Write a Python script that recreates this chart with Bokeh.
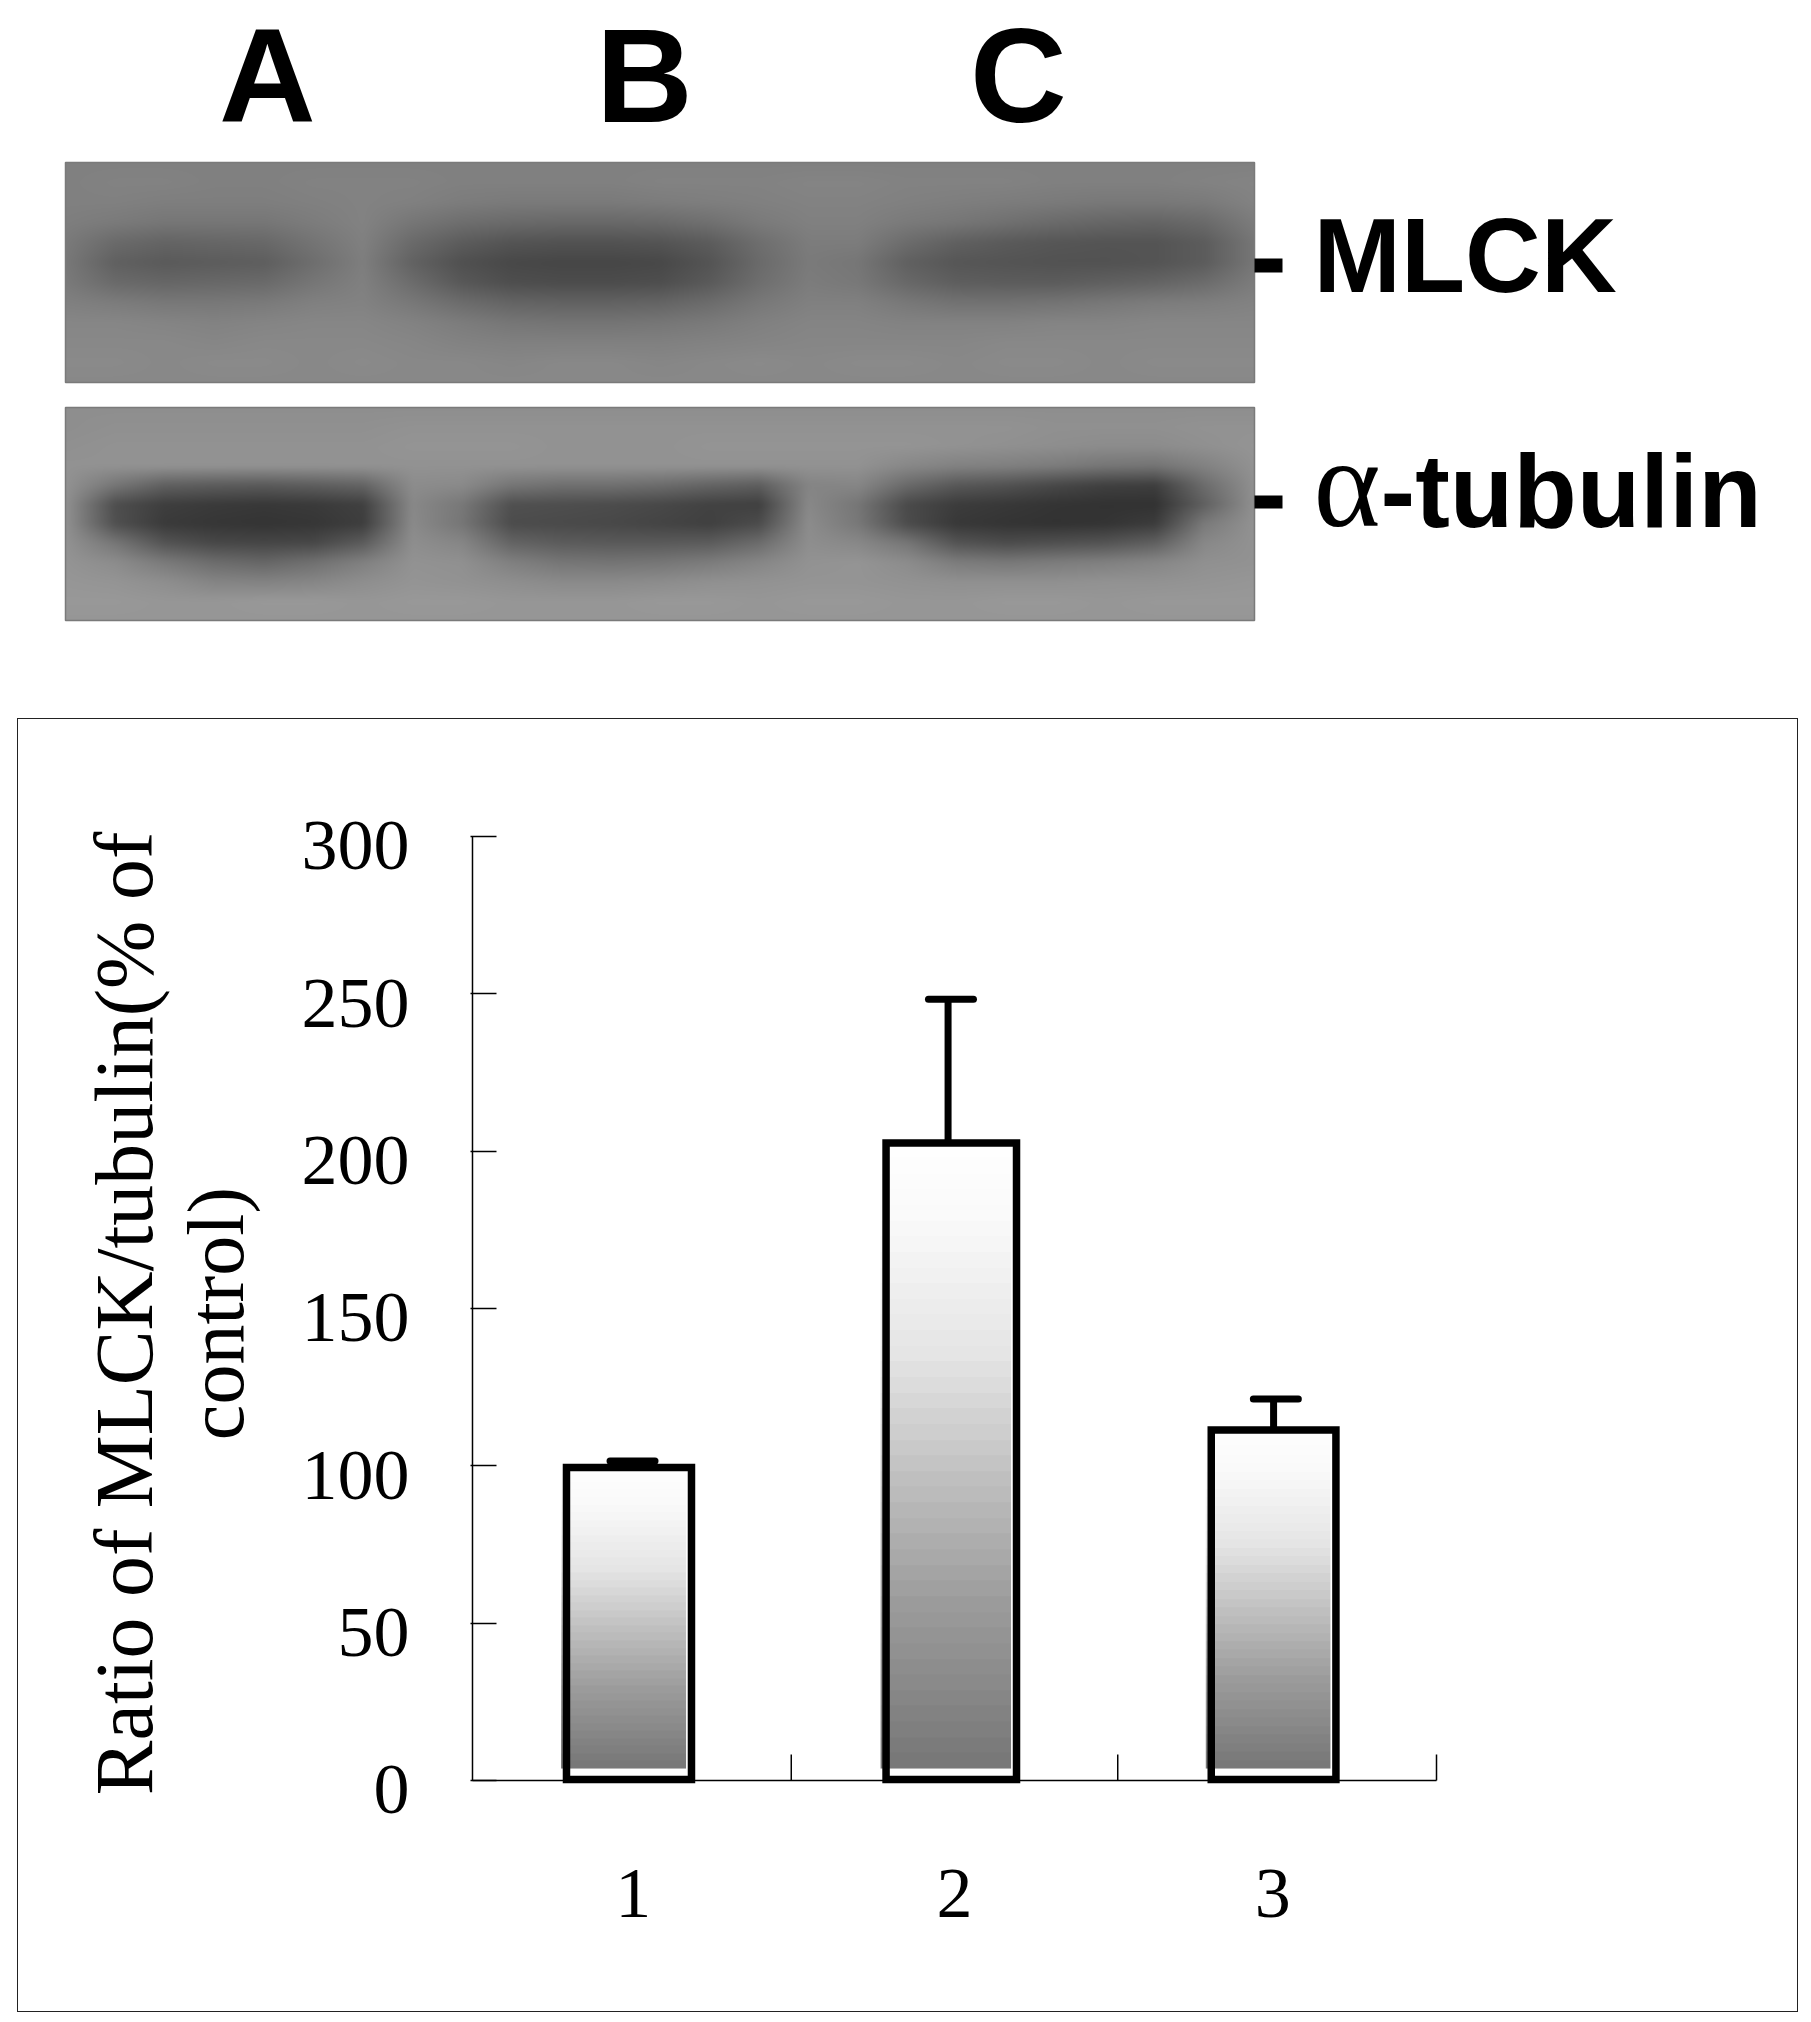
import numpy as np
from bokeh.embed import file_html
from bokeh.layouts import column
from bokeh.models import Div, FixedTicker, LinearAxis, Range1d
from bokeh.plotting import figure
from bokeh.resources import INLINE
from bokeh.core.properties import value

# ---- data ----
lanes = ["A", "B", "C"]
categories = ["1", "2", "3"]
ratio = [99.5, 202.6, 111.4]
ratio_upper = [101.5, 248.3, 121.2]
y_ticks = [0, 50, 100, 150, 200, 250, 300]
y_title_lines = ["Ratio of MLCK/tubulin(% of", "control)"]

# grey levels of the two blot photographs, estimated on a coarse grid
mlck_blot = [
    [128]*25,
    [128,130,130,128,128,130,130,130,128,128,128,128,130,130,130,132,132,130,130,130,128,128,128,130,132],
    [128,128,126,126,126,128,130,128,124,122,122,122,124,126,128,130,130,128,126,124,122,120,120,122,130],
    [126,122,118,118,118,124,130,118,110,106,104,104,106,112,122,128,128,122,118,112,106,102,100,106,124],
    [122,106,100,102,104,116,128,106,92,84,82,82,84,92,110,124,124,108,96,90,86,84,84,92,118],
    [120,96,90,92,94,110,126,98,80,72,70,70,72,84,106,122,118,96,86,84,82,82,84,92,118],
    [122,106,102,104,106,118,128,108,88,78,76,76,78,90,110,124,120,104,94,92,92,96,100,108,124],
    [128,124,120,120,122,128,130,120,108,100,98,98,100,108,120,128,128,120,114,114,116,120,124,126,130],
    [134,134,132,130,132,134,134,130,124,118,116,116,118,122,128,132,132,130,130,130,132,132,134,134,134],
    [136,136,136,134,136,136,136,134,130,128,128,128,128,130,132,134,134,134,134,136,136,136,136,136,136],
    [138,138,136,138,138,136,138,136,136,134,136,136,134,136,138,136,138,138,136,138,138,136,138,138,138],
    [136]*25,
]
tubulin_blot = [
    [142]*25,
    [142,144,144,144,144,144,144,146,146,146,146,146,146,146,146,146,146,146,146,146,144,144,144,146,146],
    [144,146,146,146,146,146,146,148,148,148,146,146,146,148,148,148,148,148,146,144,142,140,140,144,148],
    [146,146,146,146,146,146,146,146,146,146,146,146,146,146,146,146,146,136,130,128,124,118,116,130,146],
    [146,118,96,92,90,94,100,140,138,118,112,112,108,100,94,132,134,106,88,82,72,64,62,108,144],
    [144,78,62,58,56,58,64,136,120,80,78,76,72,66,64,136,118,74,60,56,52,50,50,96,144],
    [144,80,58,54,52,54,62,138,118,76,74,72,68,64,76,140,120,76,56,52,50,52,60,122,146],
    [146,118,84,72,70,72,92,142,134,100,92,90,90,92,108,142,136,118,84,76,80,84,96,136,146],
    [148,140,122,108,102,112,128,146,144,128,118,116,118,124,134,146,148,140,124,120,124,128,134,144,146],
    [150,148,142,132,130,134,142,148,146,142,138,138,140,144,146,148,148,146,144,144,144,146,146,148,150],
    [152,152,150,150,152,152,150,152,152,150,150,150,152,152,150,152,152,150,150,152,152,150,152,152,152],
    [150]*25,
]

# ---- styles and layout (page pixels) ----
FONT_BOLD = "Liberation Sans"
FONT_SERIF = "Liberation Serif"
bar_center = [0.487, 1.490, 2.493]
bar_width = [0.389, 0.406, 0.388]
stem_x = [0.498, 1.480, 2.493]
cap_x = [0.498, 1.489, 2.500]
cap_w = 0.14
shade_shift = -0.017
shade_floor = 3.8
shade_pos = [0.0, 0.11, 0.34, 0.54, 0.74, 0.94, 1.0]
shade_grey = [254, 250, 228, 191, 156, 128, 120]
bar_floor = 0.3
tick_reach = 8.26
boundary_ticks = [0.992, 2.008, 3.0]
label_slots = [0.5, 1.5, 2.49]
label_drop = 3


def grey_rgba(a):
    g = np.clip(np.rint(a), 0, 255).astype(np.uint32)
    return (0xFF000000 | (g << 16) | (g << 8) | g).astype(np.uint32)


def photo(grid, w, h):
    grid = np.asarray(grid, dtype=float)
    xi = np.linspace(0, grid.shape[1] - 1, w)
    yi = np.linspace(0, grid.shape[0] - 1, h)
    rows = np.array([np.interp(xi, np.arange(grid.shape[1]), r) for r in grid])
    out = np.array([np.interp(yi, np.arange(grid.shape[0]), c) for c in rows.T]).T
    k = np.ones(7) / 7
    pad = 8
    e = np.pad(out, pad, mode="edge")
    e = np.apply_along_axis(lambda v: np.convolve(v, k, mode="same"), 0, e)
    e = np.apply_along_axis(lambda v: np.convolve(v, k, mode="same"), 1, e)
    return e[pad:-pad, pad:-pad]


# ---- blot panel ----
top = figure(width=1811, height=708, x_range=Range1d(0, 1811), y_range=Range1d(708, 0),
             x_axis_type=None, y_axis_type=None, toolbar_location=None, frame_align=False,
             output_backend="svg", min_border=0, outline_line_color=None)
top.grid.visible = False

panels = [(mlck_blot, 65, 162, 1189, 220), (tubulin_blot, 65, 407, 1189, 213)]
for grid, x0, y0, w, h in panels:
    top.image_rgba(image=[grey_rgba(photo(grid, w, h))], x=x0, y=y0, dw=w, dh=h)
    top.quad(left=[x0], right=[x0 + w], top=[y0], bottom=[y0 + h], fill_color=None,
             line_color="#7a7a7a", line_width=1.5)

top.text(x=[267, 644, 1018], y=[75, 75, 75], text=lanes, text_font=value(FONT_BOLD),
         text_font_style="bold", text_font_size="134px", text_align="center",
         text_baseline="alphabetic", text_color="black")
top.quad(left=[1254, 1254], right=[1282, 1282], top=[258, 495], bottom=[272, 508],
         fill_color="black", line_color=None)
top.text(x=[1313], y=[255], text=["MLCK"], text_font=value(FONT_BOLD), text_font_style="bold",
         text_font_size="105px", text_baseline="alphabetic", text_color="black")
top.text(x=[1313], y=[482], text=["\u03b1"], text_font=value(FONT_SERIF),
         text_font_size="128px", text_baseline="alphabetic", text_color="black")
top.text(x=[1380], y=[490], text=["-tubulin"], text_font=value(FONT_BOLD), text_font_style="bold",
         text_font_size="104px", text_baseline="alphabetic", text_color="black")

# ---- bar chart panel ----
p = figure(width=1781, height=1294, margin=(10, 0, 0, 17), frame_align=False,
           x_range=Range1d(-0.0062, 3.0062), y_range=Range1d(-3.178, 300),
           toolbar_location=None, output_backend="svg", outline_line_color=None,
           min_border_left=453, min_border_right=360, min_border_top=118, min_border_bottom=222)
p.grid.visible = False

levels = np.linspace(1, 0, 40)
for c, w, v in zip(bar_center, bar_width, ratio):
    bands = np.rint(np.interp(levels, shade_pos, shade_grey)).reshape(-1, 1)
    p.image_rgba(image=[grey_rgba(bands)], x=c - w / 2 + shade_shift, y=shade_floor,
                 dw=w, dh=v - shade_floor)

p.quad(left=[c - w / 2 for c, w in zip(bar_center, bar_width)],
       right=[c + w / 2 for c, w in zip(bar_center, bar_width)],
       top=ratio, bottom=[bar_floor] * 3, fill_color=None, line_color="black", line_width=7.5,
       line_join="miter")
p.segment(x0=stem_x, x1=stem_x, y0=ratio, y1=ratio_upper, line_color="black", line_width=7)
p.segment(x0=[x - cap_w / 2 for x in cap_x], x1=[x + cap_w / 2 for x in cap_x],
          y0=ratio_upper, y1=ratio_upper, line_color="black", line_width=7, line_cap="round")

# axis baselines and category-boundary ticks
n = len(categories)
p.segment(x0=[0, 0], y0=[0, 0], x1=[n, 0], y1=[0, y_ticks[-1]], line_color="black", line_width=1.5)
p.segment(x0=boundary_ticks, x1=boundary_ticks, y0=[0] * n, y1=[tick_reach] * n,
          line_color="black", line_width=1.5)

# x axis carries the category labels only
xa = p.xaxis[0]
xa.ticker = FixedTicker(ticks=label_slots)
xa.major_label_overrides = dict(zip(label_slots, categories))
xa.major_tick_line_color = None
xa.minor_tick_line_color = None
xa.axis_line_color = None
xa.major_label_standoff = 73
xa.major_label_text_font = FONT_SERIF
xa.major_label_text_font_size = "72px"
xa.major_label_text_color = "black"

# y axis: ticks inside as minor ticks, labels slightly below them
ya = p.yaxis[0]
ya.ticker = FixedTicker(ticks=[t - label_drop for t in y_ticks], minor_ticks=y_ticks)
ya.major_label_overrides = {t - label_drop: str(t) for t in y_ticks}
ya.major_tick_line_color = None
ya.axis_line_color = None
ya.minor_tick_in = 26
ya.minor_tick_out = 0
ya.minor_tick_line_color = "black"
ya.minor_tick_line_width = 1.5
ya.major_label_standoff = 55
ya.major_label_text_font = FONT_SERIF
ya.major_label_text_font_size = "72px"
ya.major_label_text_color = "black"
ya.axis_label = y_title_lines[1]
ya.axis_label_text_font = FONT_SERIF
ya.axis_label_text_font_style = "normal"
ya.axis_label_text_font_size = "80px"
ya.axis_label_text_color = "black"
ya.axis_label_standoff = 39

# outer, tick-free axis carries the first line of the title
oa = LinearAxis(ticker=FixedTicker(ticks=[]), axis_line_color=None,
                major_tick_line_color=None, minor_tick_line_color=None,
                major_tick_in=0, major_tick_out=0, major_label_standoff=0)
oa.axis_label = y_title_lines[0]
oa.axis_label_text_font = FONT_SERIF
oa.axis_label_text_font_style = "normal"
oa.axis_label_text_font_size = "82px"
oa.axis_label_text_color = "black"
oa.axis_label_standoff = -1
p.add_layout(oa, "left")

# the thin rectangle round the chart
box = Div(text="", margin=0,
          styles={"position": "absolute", "left": "17px", "top": "718px",
                  "width": "1781px", "height": "1294px", "box-sizing": "border-box",
                  "border": "1.5px solid #222222", "pointer-events": "none"})

page = column(top, p, box, spacing=0)
open("out.html", "w").write(file_html(page, INLINE))
